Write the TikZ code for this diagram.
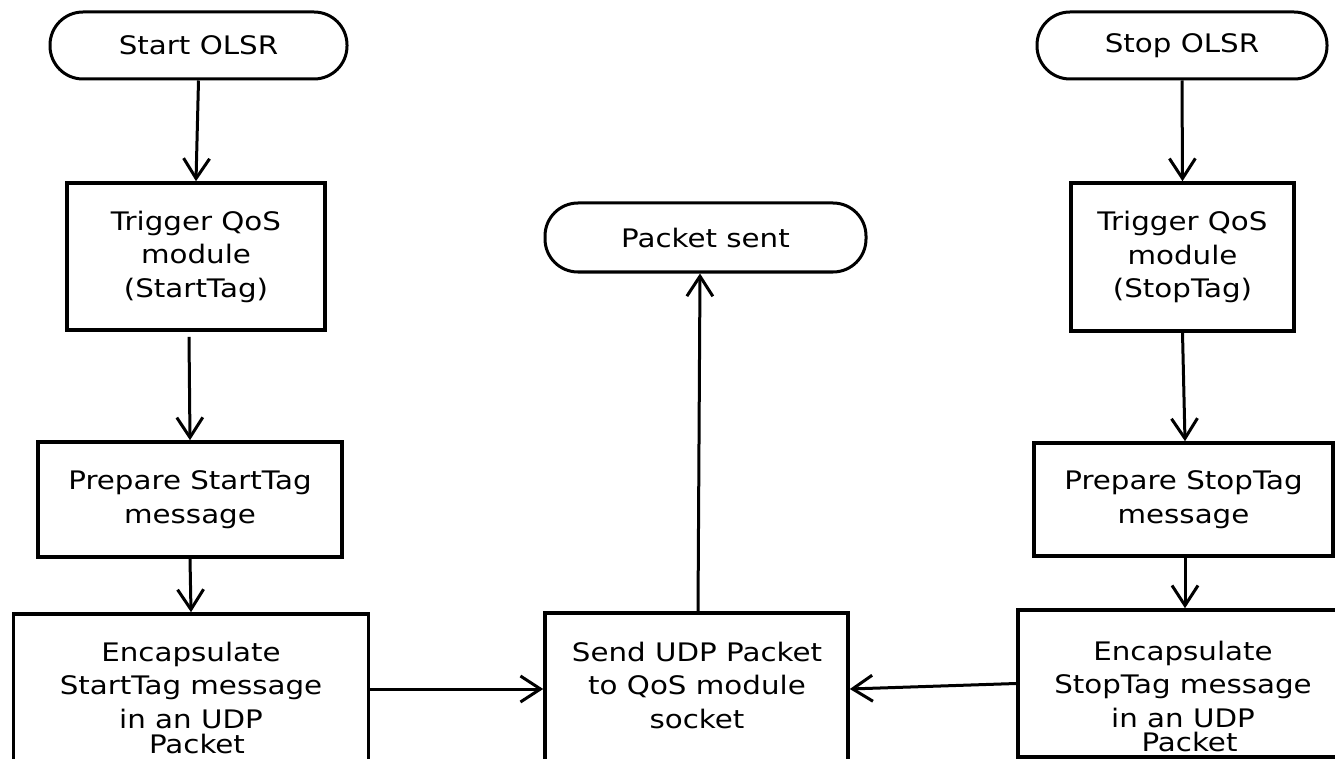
\documentclass[tikz,border=0pt]{standalone}
\usepackage{fontspec}
\setmainfont{DejaVu Sans}[FakeStretch=1.15]
\usetikzlibrary{arrows.meta}
\begin{document}
\begin{tikzpicture}[x=1pt,y=-1pt,
  box/.style={draw, line width=3.6pt, inner sep=0pt, align=center},
  term/.style={draw, line width=3pt, rounded corners=33pt, inner sep=0pt},
  txt/.style={align=center, inner sep=0pt},
  flow/.style={line width=3pt, -{Straight Barb[length=20pt,width=26pt]}},
  font=\fontsize{25.5pt}{33.5pt}\selectfont]
\useasboundingbox[fill=white] (0,0) rectangle (1335,759);
% left column
\node[term, minimum width=297pt, minimum height=67pt] (start) at (198.5,45.5) {Start OLSR};
\node[box, minimum width=258pt, minimum height=147pt] (trig1) at (196,256.5) {Trigger QoS\\module\\(StartTag)};
\node[box, minimum width=304pt, minimum height=115pt] (prep1) at (190,499.5) {Prepare StartTag\\message};
\node[box, minimum width=355pt, minimum height=150pt] (enc1) at (191,689) {};
\node[txt] (enc1t) at (191,698) {Encapsulate\\StartTag message\\in an UDP\\[-8pt]\hspace*{12pt}Packet};
% middle
\node[box, minimum width=303pt, minimum height=152pt] (send) at (696.5,689) {};
\node[txt] (sendt) at (697,685) {Send UDP Packet\\to QoS module\\socket};
\node[term, minimum width=321pt, minimum height=69pt] (sent) at (705.5,237.5) {Packet sent};
% right column
\node[term, minimum width=290pt, minimum height=67pt] (stop) at (1182,45.5) {Stop OLSR};
\node[box, minimum width=223pt, minimum height=148pt] (trig2) at (1182.5,257) {Trigger QoS\\module\\(StopTag)};
\node[box, minimum width=299pt, minimum height=113pt] (prep2) at (1183.5,499.5) {Prepare StopTag\\message};
\node[box, minimum width=330pt, minimum height=147pt] (enc2) at (1183,683.5) {};
\node[txt] (enc2t) at (1183,696) {Encapsulate\\StopTag message\\in an UDP\\[-9.5pt]\hspace*{13pt}Packet};
% connectors
\draw[flow] (start.south) -- (trig1.north);
\draw[flow] ([xshift=-7pt,yshift=-5pt]trig1.south) -- (prep1.north);
\draw[flow] (prep1.south) -- (enc1.north);
\draw[flow] (enc1.east) -- (send.west);
\draw[flow] ([xshift=1.5pt]send.north) -- ([xshift=-5.5pt]sent.south);
\draw[flow] (stop.south) -- (trig2.north);
\draw[flow] (trig2.south) -- ([xshift=1.5pt]prep2.north);
\draw[flow] ([xshift=1.5pt]prep2.south) -- ([xshift=2pt]enc2.north);
\draw[flow] (enc2.west) -- (send.east);
\end{tikzpicture}
\end{document}
